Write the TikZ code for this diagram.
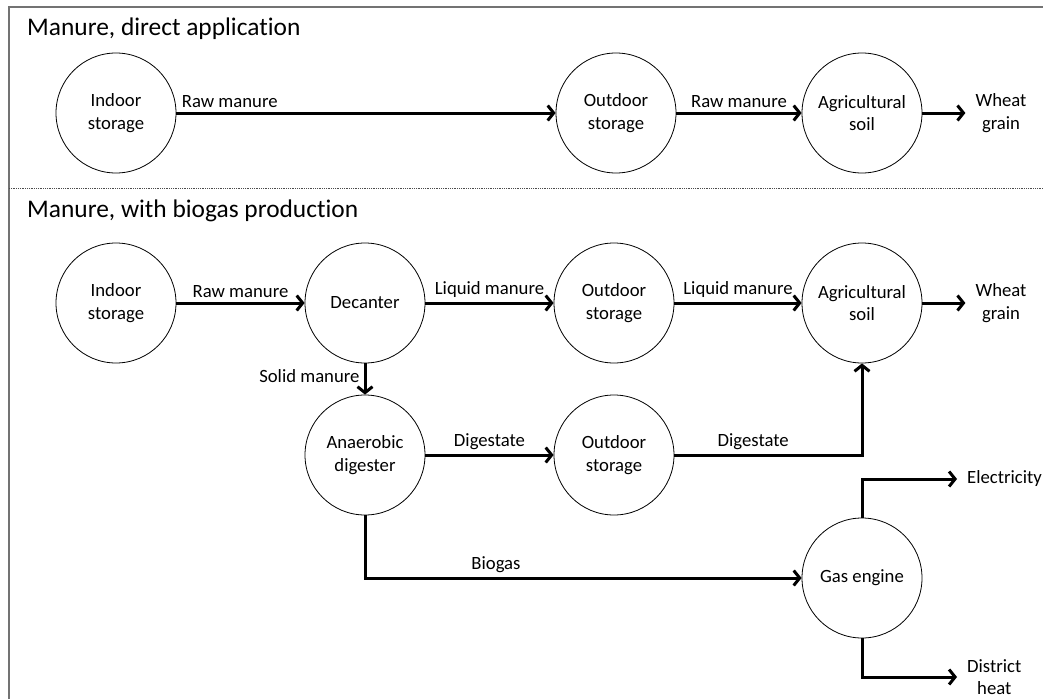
\documentclass[tikz,border=0pt]{standalone}
\usepackage{fontspec}
\setmainfont{Carlito}[Ligatures=NoCommon]
\usetikzlibrary{positioning,arrows.meta}

\begin{document}
\begin{tikzpicture}[x=1pt, y=-1pt, on grid, auto, inner sep=4pt,
  font=\fontsize{18.7}{22.5}\selectfont,
  unit/.style={draw, circle, line width=0.8pt, minimum size=120pt, inner sep=0pt, align=center},
  flow/.style={draw, line width=3pt, -{Straight Barb[length=6pt,width=15pt]}},
  every edge/.style={flow},
  product/.style={align=center, inner sep=10pt},
  heading/.style={font=\fontsize{25.4}{30}\selectfont, anchor=base west, inner sep=0pt}]

\useasboundingbox (0,0) rectangle (1043,699);

% frame and divider between the two cases
\draw[black!55, line width=1.6pt] (9,699) |- (1043,7);
\draw[black!70, densely dotted, line width=0.8pt] (9,188) -- (1043,188);

\node[heading] (t1) at (27,35) {Manure, direct application};
\node[heading] (t2) at (27,217) {Manure, with biogas production};

% direct application
\node[unit] (in1) at (116,113) {Indoor\\storage};
\node[unit] (out1) [right=500pt of in1] {Outdoor\\storage};
\node[unit] (soil1) [right=246pt of out1] {Agricultural\\soil};
\node[product] (wheat1) [right=139pt of soil1] {Wheat\\grain};

% with biogas production
\node[unit] (in2) [below=190pt of in1] {Indoor\\storage};
\node[unit] (dec) [right=249pt of in2] {Decanter};
\node[unit] (out2) [right=249pt of dec] {Outdoor\\storage};
\node[unit] (soil2) [right=248pt of out2] {Agricultural\\soil};
\node[product] (wheat2) [right=139pt of soil2] {Wheat\\grain};
\node[unit] (dig) [below=152pt of dec] {Anaerobic\\digester};
\node[unit] (out3) [right=249pt of dig] {Outdoor\\storage};
\node[unit] (eng) [below=275pt of soil2] {Gas engine};
\node[product, anchor=west] (elec) at (957,479) {Electricity};
\node[product, anchor=west] (heat) at (957,677) {District\\heat};

\path (in1) edge node[pos=0, anchor=south west] {Raw manure} (out1)
  (out1) edge node {Raw manure} (soil1)
  (soil1) edge (wheat1)
  (in2) edge node {Raw manure} (dec)
  (dec) edge node {Liquid manure} (out2)
      edge node[swap, yshift=3pt] {Solid manure} (dig)
  (out2) edge node {Liquid manure} (soil2)
  (soil2) edge (wheat2)
  (dig) edge node {Digestate} (out3);

\draw[flow] (out3) -| node[pos=0.21] {Digestate} (soil2);
\draw[flow] (dig) |- node[pos=0.65] {Biogas} (eng);
\draw[flow] (eng) |- (elec);
\draw[flow] (eng) |- (heat);

\end{tikzpicture}
\end{document}
